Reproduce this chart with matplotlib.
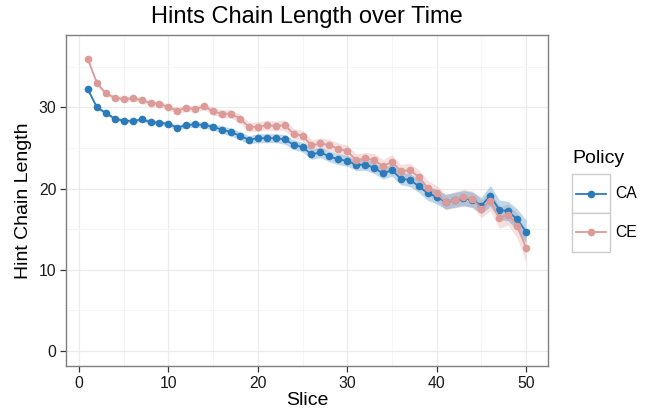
import numpy as np
import matplotlib
matplotlib.use("Agg")
import matplotlib.pyplot as plt
from matplotlib.lines import Line2D
from matplotlib.patches import Rectangle

plt.rcParams['font.family'] = ['Liberation Sans', 'DejaVu Sans']

slices = list(range(1, 51))

ca = [32.2, 30.0, 29.3, 28.6, 28.35, 28.3, 28.5, 28.2, 28.1, 27.95,
      27.5, 27.8, 27.9, 27.8, 27.6, 27.25, 26.95, 26.5, 26.0, 26.2,
      26.2, 26.2, 26.05, 25.4, 25.1, 24.2, 24.45, 23.95, 23.6, 23.4,
      22.9, 22.95, 22.55, 21.85, 22.25, 21.2, 21.05, 20.3, 19.4, 19.0,
      18.35, 18.6, 18.8, 18.6, 17.9, 19.1, 17.4, 17.2, 16.2, 14.7]

ce = [35.9, 33.0, 31.7, 31.2, 31.0, 31.1, 30.9, 30.5, 30.45, 30.0,
      29.6, 29.9, 29.8, 30.1, 29.5, 29.2, 29.2, 28.6, 27.6, 27.6,
      27.8, 27.7, 27.8, 26.75, 26.5, 25.3, 25.55, 25.35, 24.9, 24.6,
      23.5, 23.7, 23.5, 22.75, 23.3, 22.1, 22.3, 21.4, 20.1, 19.4,
      18.35, 18.6, 18.9, 18.7, 17.5, 18.45, 16.4, 16.8, 15.4, 12.7]

# half widths of the confidence bands
ca_err = [0.2, 0.2, 0.2, 0.2, 0.25, 0.25, 0.25, 0.3, 0.3, 0.3,
          0.3, 0.35, 0.35, 0.35, 0.4, 0.45, 0.5, 0.5, 0.5, 0.55,
          0.55, 0.55, 0.6, 0.6, 0.6, 0.6, 0.65, 0.65, 0.65, 0.65,
          0.7, 0.7, 0.7, 0.7, 0.75, 0.75, 0.8, 0.8, 0.85, 0.9,
          0.9, 0.9, 0.95, 0.95, 1.0, 1.3, 1.2, 1.2, 1.3, 1.4]
ce_err = [0.25, 0.25, 0.25, 0.25, 0.3, 0.3, 0.3, 0.3, 0.35, 0.35,
          0.35, 0.4, 0.4, 0.4, 0.45, 0.5, 0.5, 0.55, 0.55, 0.6,
          0.6, 0.6, 0.65, 0.65, 0.65, 0.7, 0.7, 0.7, 0.7, 0.75,
          0.75, 0.75, 0.8, 0.8, 0.85, 0.85, 0.85, 0.9, 0.9, 0.95,
          0.95, 1.0, 1.0, 1.0, 1.1, 1.2, 1.3, 1.3, 1.5, 1.8]

policies = ["CA", "CE"]
colors = {"CA": "#2b7bba", "CE": "#dc9b98"}

fig = plt.figure(figsize=(6.52, 4.15), dpi=100)
ax = fig.add_axes([66 / 652, 1 - 366 / 415, (548 - 66) / 652, (366 - 35) / 415])

for name, vals, err in [("CE", ce, ce_err), ("CA", ca, ca_err)]:
    v = np.array(vals)
    e = np.array(err)
    ax.fill_between(slices, v - e, v + e, color=colors[name], alpha=0.3, lw=0, zorder=2)
for name, vals in [("CA", ca), ("CE", ce)]:
    ax.plot(slices, vals, color=colors[name], lw=1.3, marker="o", ms=5.5,
            markeredgewidth=0, zorder=3)

ax.set_xlim(-1.45, 52.45)
ax.set_ylim(-1.85, 38.9)
ax.set_xticks([0, 10, 20, 30, 40, 50])
ax.set_xticks([5, 15, 25, 35, 45], minor=True)
ax.set_yticks([0, 10, 20, 30])
ax.set_yticks([5, 15, 25, 35], minor=True)
ax.grid(which="major", color="#ebebeb", lw=0.9, zorder=0)
ax.grid(which="minor", color="#f4f4f4", lw=0.6, zorder=0)
ax.set_axisbelow(True)
for s in ax.spines.values():
    s.set_color("#7f7f7f")
    s.set_linewidth(1.0)
ax.tick_params(which="major", length=4, width=0.9, color="#333333",
               labelsize=11.3, labelcolor="#1a1a1a", pad=3)
ax.tick_params(which="minor", length=0)

ax.set_xlabel("Slice", fontsize=14, labelpad=1)
ax.set_ylabel("Hint Chain Length", fontsize=14, labelpad=5)
fig.text((66 + 548) / 2 / 652, 1 - 23 / 415, "Hints Chain Length over Time",
         ha="center", va="baseline", fontsize=17)

# legend drawn by hand, ggplot style
def fx(px):
    return px / 652

def fy(py):
    return 1 - py / 415

fig.text(fx(572), fy(163), "Policy", ha="left", va="baseline", fontsize=14)
for i, name in enumerate(policies):
    top = 174 + i * 39
    fig.patches.append(Rectangle((fx(572), fy(top + 39)), fx(38), 39 / 415,
                                 transform=fig.transFigure, facecolor="white",
                                 edgecolor="#cccccc", lw=1.0))
    yc = fy(top + 19.5)
    fig.lines.append(Line2D([fx(576), fx(606)], [yc, yc], transform=fig.transFigure,
                            color=colors[name], lw=1.3))
    fig.lines.append(Line2D([fx(591)], [yc], transform=fig.transFigure,
                            color=colors[name], marker="o", ms=5.5, markeredgewidth=0))
    fig.text(fx(615), yc, name, ha="left", va="center", fontsize=11.3)

fig.savefig("out.png", dpi=100)
